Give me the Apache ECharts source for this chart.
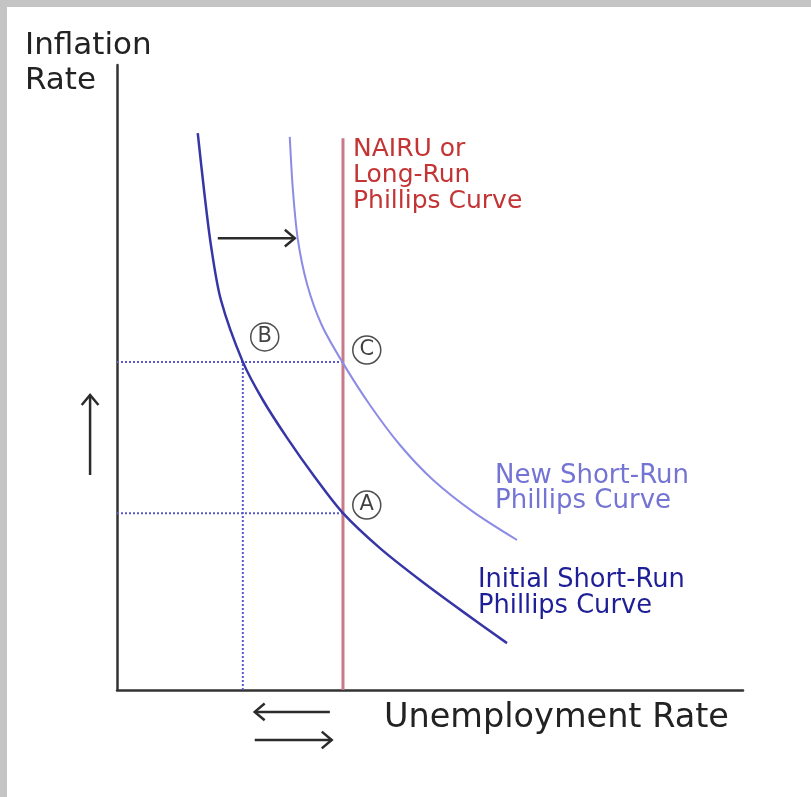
<!DOCTYPE html>
<html>
<head>
<meta charset="utf-8">
<script src="https://cdn.jsdelivr.net/npm/echarts@6/dist/echarts.min.js"></script>
<style>
  html, body { margin: 0; padding: 0; background: #fff; }
  #chart { width: 811px; height: 797px; }
  .edge { position: absolute; background: #c4c4c4; z-index: 5; }
</style>
</head>
<body>
<div id="chart"></div>
<div class="edge" style="left:0;top:0;width:811px;height:7px"></div>
<div class="edge" style="left:0;top:0;width:7px;height:797px"></div>
<script>
// 坐标单位: 失业率 / 通胀率, 0..10 (示意图, 无刻度)
const initialSRPC = [
  [1.29, 8.91], [1.39, 8.00], [1.50, 7.12], [1.66, 6.24], [2.01, 5.25],
  [2.33, 4.64], [2.72, 4.03], [3.15, 3.42], [3.61, 2.83], [4.20, 2.27],
  [4.84, 1.76], [5.53, 1.25], [6.23, 0.75]
]
const newSRPC = [
  [2.76, 8.85], [2.81, 8.00], [2.89, 7.20], [3.04, 6.48], [3.27, 5.84],
  [3.61, 5.23], [4.04, 4.56], [4.52, 3.92], [5.05, 3.36], [5.69, 2.85],
  [6.39, 2.40]
]
const nairu = 3.61
const nairuTop = 8.83
const pointB = [2.01, 5.25]
const pointA = [3.61, 2.83]
const pointC = [3.61, 5.25]

// 圆圈标记位置
const markers = [
  { name: 'B', value: [2.36, 5.65] },
  { name: 'C', value: [3.99, 5.44] },
  { name: 'A', value: [3.99, 2.96] }
]

// 箭头: [x1, y1, x2, y2]
const arrows = [
  [1.61, 7.23, 2.84, 7.23],
  [-0.43, 3.44, -0.43, 4.72],
  [3.40, -0.35, 2.20, -0.35],
  [2.20, -0.80, 3.43, -0.80]
]

const dotColor = '#5a5acb'
const font = 'DejaVu Sans'

function dotted(data) {
  return {
    type: 'line', data, symbol: 'none', silent: true,
    lineStyle: { color: dotColor, width: 2, type: [2, 2] }
  }
}

function renderArrow(params, api) {
  const p1 = api.coord([api.value(0), api.value(1)])
  const p2 = api.coord([api.value(2), api.value(3)])
  const ang = Math.atan2(p2[1] - p1[1], p2[0] - p1[0])
  const len = 13, spread = 0.7
  const h1 = [p2[0] - len * Math.cos(ang - spread), p2[1] - len * Math.sin(ang - spread)]
  const h2 = [p2[0] - len * Math.cos(ang + spread), p2[1] - len * Math.sin(ang + spread)]
  const style = { stroke: '#2b2b2b', lineWidth: 2.5, fill: null }
  return {
    type: 'group',
    children: [
      { type: 'polyline', shape: { points: [p1, p2] }, style },
      { type: 'polyline', shape: { points: [h1, p2, h2] }, style }
    ]
  }
}

const chart = echarts.init(document.getElementById('chart'))

const axisCommon = {
  type: 'value', min: 0, max: 10,
  axisLine: { show: true, lineStyle: { color: '#333', width: 2.5 } },
  axisTick: { show: false },
  axisLabel: { show: false },
  splitLine: { show: false }
}

chart.setOption({
  backgroundColor: '#fff',
  animation: false,
  grid: { left: 117, right: 68, top: 65, bottom: 107 },
  xAxis: axisCommon,
  yAxis: axisCommon,
  graphic: [
    {
      type: 'text', left: 25, top: 28,
      style: { text: 'Inflation\nRate', font: '31px ' + font, lineHeight: 35, fill: '#222' }
    },
    {
      type: 'text', left: 384, top: 701,
      style: { text: 'Unemployment Rate', font: '33.5px ' + font, fill: '#222' }
    },
    {
      type: 'text', left: 353, top: 136,
      style: { text: 'NAIRU or\nLong-Run\nPhillips Curve', font: '25px ' + font, lineHeight: 26, fill: '#c43434' }
    },
    {
      type: 'text', left: 495, top: 463,
      style: { text: 'New Short-Run\nPhillips Curve', font: '26px ' + font, lineHeight: 25, fill: '#7474d4' }
    },
    {
      type: 'text', left: 478, top: 567,
      style: { text: 'Initial Short-Run\nPhillips Curve', font: '25.7px ' + font, lineHeight: 26, fill: '#1e1e96' }
    }
  ],
  series: [
    dotted([[0, pointB[1]], [pointC[0], pointC[1]]]),
    dotted([[0, pointA[1]], [pointA[0], pointA[1]]]),
    dotted([[pointB[0], 0], [pointB[0], pointB[1]]]),
    {
      type: 'line', data: [[nairu, 0], [nairu, nairuTop]], symbol: 'none', silent: true,
      lineStyle: { color: '#c97a88', width: 3 }
    },
    {
      type: 'line', data: newSRPC, smooth: 0.3, symbol: 'none', silent: true,
      lineStyle: { color: '#8c8ce6', width: 2 }
    },
    {
      type: 'line', data: initialSRPC, smooth: 0.3, symbol: 'none', silent: true,
      lineStyle: { color: '#3636a6', width: 2.5 }
    },
    {
      type: 'scatter', data: markers, symbol: 'circle', symbolSize: 28, silent: true,
      itemStyle: { color: '#fff', borderColor: '#222', borderWidth: 1.5 },
      label: {
        show: true, position: 'inside', formatter: '{b}',
        fontFamily: font, fontSize: 21, color: '#111'
      }
    },
    {
      type: 'custom', data: arrows, renderItem: renderArrow, silent: true, clip: false
    }
  ]
})
</script>
</body>
</html>
